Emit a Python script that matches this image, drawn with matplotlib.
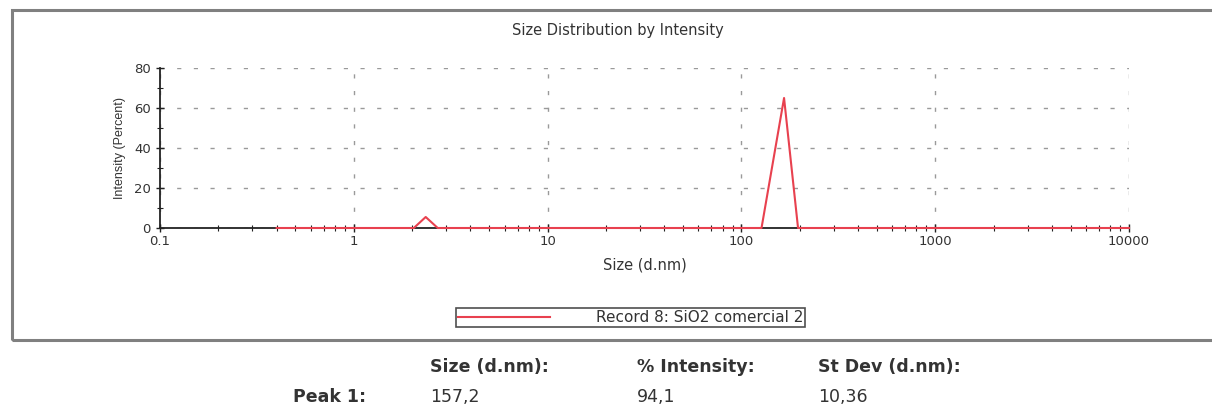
import numpy as np
import matplotlib.pyplot as plt
from matplotlib.patches import Rectangle
from matplotlib.ticker import LogLocator, NullFormatter, MultipleLocator, FixedFormatter, FixedLocator

plt.rcParams['font.family'] = ['DejaVu Sans']

# size distribution (d.nm) vs intensity (%)
sizes = [0.4, 2.04, 2.35, 2.71, 127, 166, 196, 10000]
intensity = [0, 0, 5.5, 0, 0, 65, 0, 0]

x_ticks = [0.1, 1, 10, 100, 1000, 10000]
x_labels = ['0.1', '1', '10', '100', '1000', '10000']
y_ticks = [0, 20, 40, 60, 80]

headers = ['Size (d.nm):', '% Intensity:', 'St Dev (d.nm):']
peak_name = 'Peak 1:'
peak_values = ['157,2', '94,1', '10,36']

W, H = 1212, 404
fig = plt.figure(figsize=(W / 100, H / 100), dpi=100)

# outer frame of the chart panel
fig.patches.append(Rectangle((12 / W, 1 - 340 / H), 1.2, (340 - 10) / H,
                             transform=fig.transFigure, fill=False,
                             edgecolor='#808080', lw=2.2))

ax = fig.add_axes([160 / W, 1 - 228 / H, (1129 - 160) / W, (228 - 68) / H])
ax.plot(sizes, intensity, color='#e8414f', lw=1.5,
        label='Record 8: SiO2 comercial 2', zorder=3, clip_on=False)

ax.set_xscale('log')
ax.set_xlim(0.1, 10000)
ax.set_ylim(0, 80)

ax.xaxis.set_major_locator(FixedLocator(x_ticks))
ax.xaxis.set_major_formatter(FixedFormatter(x_labels))
ax.xaxis.set_minor_locator(LogLocator(base=10, subs=np.arange(2, 10)))
ax.xaxis.set_minor_formatter(NullFormatter())
ax.set_yticks(y_ticks)
ax.yaxis.set_minor_locator(MultipleLocator(10))

ax.tick_params(which='both', direction='inout', color='#222222', labelsize=9.5,
               labelcolor='#333333')
ax.tick_params(which='major', length=6, width=1)
ax.tick_params(which='minor', length=4, width=0.8)
ax.tick_params(axis='x', pad=2)

for s in ['top', 'right']:
    ax.spines[s].set_visible(False)
for s in ['left', 'bottom']:
    ax.spines[s].set_color('#222222')
    ax.spines[s].set_linewidth(1.3)

ax.grid(True, which='major', color='#9a9a9a', linestyle=(0, (3, 9)), lw=1)
ax.set_axisbelow(True)

ax.set_xlabel('Size (d.nm)', fontsize=10.5, color='#333333', labelpad=7)
ax.set_ylabel('Intensity (Percent)', fontsize=9, color='#333333',
              family='Liberation Sans', labelpad=6)

fig.text(618 / W, 1 - 31 / H, 'Size Distribution by Intensity', fontsize=10.5,
         ha='center', va='center', color='#333333')

leg = ax.legend(loc='center', bbox_to_anchor=((443 + 818) / 2 / W, 1 - 317.5 / H),
                bbox_transform=fig.transFigure, fontsize=11, frameon=True,
                fancybox=False, edgecolor='#222222', handlelength=6.0,
                handletextpad=3.0, borderpad=0.15, borderaxespad=0)
leg.get_frame().set_linewidth(1.2)
for t in leg.get_texts():
    t.set_color('#333333')

# peak table
col_x = [430, 637, 818]
for cx, h, v in zip(col_x, headers, peak_values):
    fig.text(cx / W, 1 - 367 / H, h, fontsize=12.5, weight='bold',
             ha='left', va='center', color='#333333')
    fig.text(cx / W, 1 - 397 / H, v, fontsize=12.5, ha='left', va='center',
             color='#333333')
fig.text(293 / W, 1 - 397 / H, peak_name, fontsize=12.5, weight='bold',
         ha='left', va='center', color='#333333')

plt.savefig('out.png', dpi=100)
